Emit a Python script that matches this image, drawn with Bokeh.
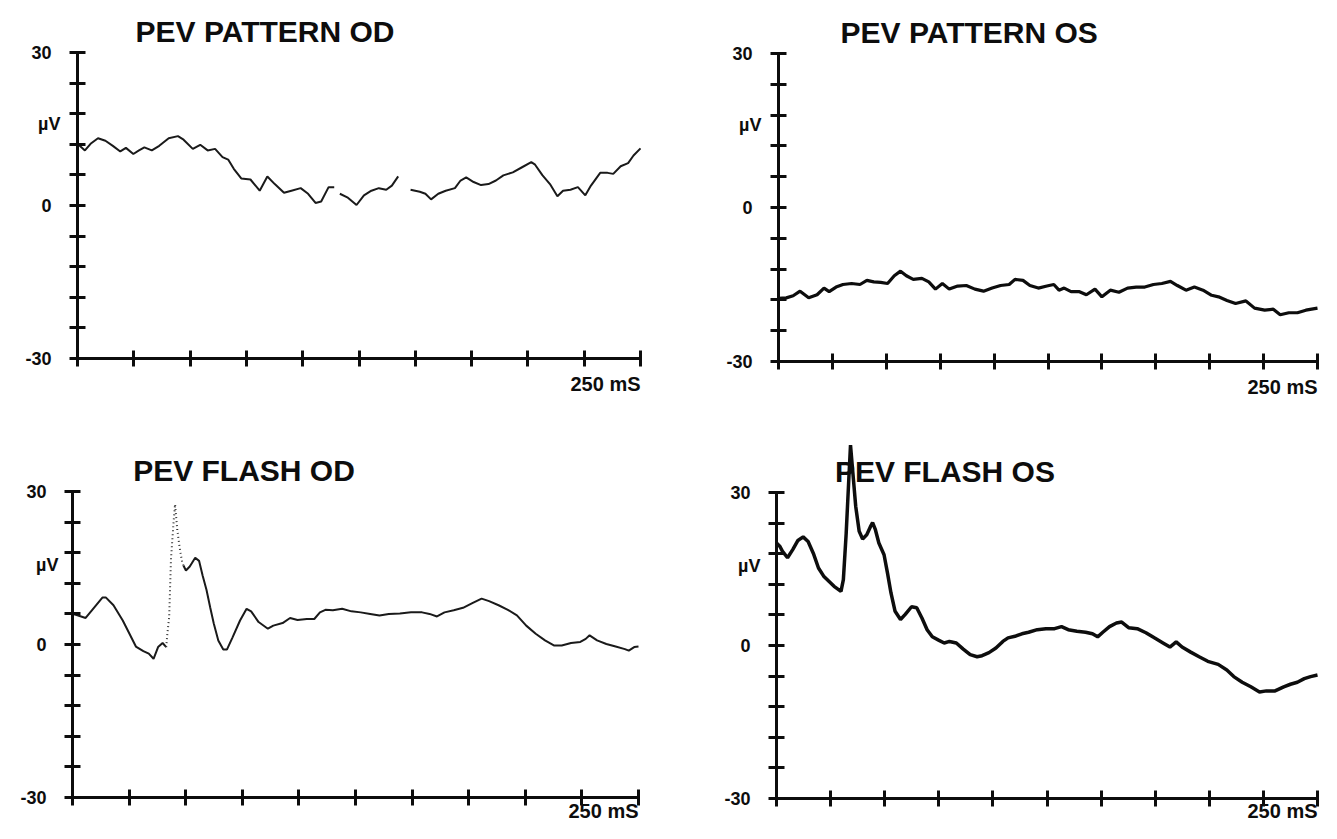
from bokeh.plotting import figure
from bokeh.models import Range1d, FixedTicker, Label
from bokeh.layouts import row, column
from bokeh.embed import file_html
from bokeh.resources import INLINE

NAN = float("nan")

# ---------------- data ----------------
y_ticks = [-30, -24, -18, -12, -6, 0, 6, 12, 18, 24, 30]
y_tick_labels = {30: "30", 0: "0", -30: "-30"}
x_ticks = [0, 25, 50, 75, 100, 125, 150, 175, 200, 225, 250]
x_end_label = "250 mS"
unit_label = "\u00b5V"
titles = ["PEV PATTERN OD", "PEV PATTERN OS", "PEV FLASH OD", "PEV FLASH OS"]

pattern_od_t = [0, 3.3, 5.8, 9.1, 12.4, 15.7, 19.0, 21.5, 24.8, 27.3, 29.7, 33.0, 36.3, 40.5, 44.6,
                47.1, 51.2, 54.5, 57.8, 61.1, 64.4, 66.9, 69.4, 72.7, 76.8, 80.9, 84.3, 87.6, 91.7,
                95.0, 99.1, 102.4, 105.7, 108.2, 111.5, 114.0, 115.3, 116.5, 119.8, 123.9, 127.2,
                130.5, 133.8, 137.1, 139.6, 142.4, 145.0, 147.9, 152.0, 154.5, 157.0, 160.2, 163.5,
                167.6, 170.1, 172.6, 175.9, 179.2, 182.5, 185.8, 189.1, 193.3, 197.4, 201.5, 203.2,
                206.5, 209.8, 213.1, 215.6, 218.9, 222.2, 225.5, 228.0, 232.1, 235.4, 237.9, 241.2,
                244.5, 246.9, 250.0]
pattern_od_v = [12.1, 10.8, 12.1, 13.2, 12.7, 11.7, 10.6, 11.3, 10.1, 10.8, 11.4, 10.8, 11.7, 13.2, 13.6,
                12.9, 11.1, 11.9, 10.8, 11.1, 9.5, 9.0, 7.2, 5.3, 5.1, 2.9, 5.7, 4.2, 2.5,
                2.9, 3.4, 2.3, 0.5, 0.8, 3.6, 3.6, NAN, 2.3, 1.6, 0.1, 2.0,
                2.9, 3.4, 3.1, 3.9, 5.7, NAN, 3.1, 2.7, 2.3, 1.2, 2.3, 2.9,
                3.4, 4.9, 5.5, 4.6, 4.0, 4.2, 4.9, 5.9, 6.5, 7.5, 8.5, 8.0,
                5.9, 4.2, 1.8, 2.9, 3.1, 3.6, 2.0, 3.9, 6.4, 6.4, 6.2, 7.7,
                8.3, 9.8, 11.2]

pattern_os_t = [0, 3.6, 6.8, 10.0, 14.0, 17.9, 21.1, 23.5, 26.7, 29.9, 33.9, 37.8, 41.0, 44.2, 47.4,
                50.6, 53.7, 56.6, 59.3, 62.5, 66.5, 69.7, 72.8, 76.0, 79.2, 83.1, 87.1, 91.1, 95.1,
                99.1, 103.0, 107.0, 109.7, 113.4, 116.6, 120.5, 124.5, 127.7, 130.1, 132.5, 135.7,
                139.6, 142.8, 146.8, 150.0, 153.9, 157.9, 161.9, 165.9, 169.9, 173.9, 177.8, 181.8,
                185.0, 189.0, 192.9, 196.9, 200.9, 204.1, 208.0, 212.0, 216.8, 220.8, 225.5, 229.5,
                232.7, 236.7, 240.7, 244.6, 250.0]
pattern_os_v = [-17.7, -17.6, -17.2, -16.3, -17.6, -17.0, -15.7, -16.4, -15.5, -15.0, -14.8, -15.0, -14.2,
                -14.5, -14.6, -14.8, -13.3, -12.4, -13.3, -14.0, -13.8, -14.5, -15.9, -14.8, -15.9,
                -15.3, -15.2, -15.9, -16.3, -15.7, -15.2, -15.0, -14.0, -14.2, -15.2, -15.7, -15.3,
                -15.0, -16.1, -15.7, -16.4, -16.4, -17.0, -15.9, -17.4, -16.1, -16.5, -15.7, -15.5,
                -15.5, -15.0, -14.8, -14.4, -15.2, -16.1, -15.5, -16.1, -17.1, -17.4, -18.1, -18.7,
                -18.2, -19.6, -20.0, -19.8, -20.9, -20.5, -20.5, -20.0, -19.6]

flash_od_pre_t = [0, 2.5, 5.8, 9.1, 13.2, 14.8, 18.1, 22.2, 25.5, 28.0, 31.3, 33.7, 35.8, 37.8, 39.8, 41.4]
flash_od_pre_v = [6.0, 5.7, 5.2, 7.0, 9.2, 9.2, 7.7, 4.7, 1.8, -0.4, -1.3, -1.8, -2.8, -0.5, 0.3, -0.5]
flash_od_spike_t = [41.4, 41.9, 42.7, 43.5, 44.7, 45.3, 46.3, 47.3, 48.4, 49.0]
flash_od_spike_v = [-0.5, 2.1, 5.4, 16.8, 24.3, 27.5, 22.4, 19.1, 16.2, 15.5]
flash_od_post_t = [49.0, 50.1, 51.8, 54.2, 55.9, 57.5, 59.2, 60.8, 62.4, 64.4, 66.6, 68.2, 70.7, 74.0,
                   76.9, 78.9, 82.2, 86.3, 88.7, 92.8, 96.1, 99.4, 103.5, 106.8, 109.3, 111.7, 115.0,
                   119.1, 123.2, 127.3, 131.5, 135.6, 139.7, 144.6, 149.5, 154.4, 157.7, 161.0, 164.3,
                   168.4, 172.5, 176.6, 180.7, 184.0, 188.2, 192.3, 196.3, 200.4, 204.6, 208.7, 212.8,
                   216.1, 220.2, 224.3, 226.7, 228.4, 231.7, 235.8, 239.9, 244.0, 245.7, 248.1, 250.0]
flash_od_post_v = [15.5, 14.5, 15.3, 17.0, 16.4, 13.5, 10.7, 7.3, 4.1, 0.8, -1.0, -1.0, 1.4, 4.7,
                   7.0, 6.5, 4.4, 3.1, 3.7, 4.2, 5.2, 4.8, 5.0, 5.0, 6.3, 6.8, 6.7,
                   7.0, 6.5, 6.3, 6.0, 5.7, 6.0, 6.1, 6.3, 6.3, 6.0, 5.5, 6.3,
                   6.7, 7.2, 8.1, 9.0, 8.5, 7.7, 6.8, 5.7, 3.7, 2.1, 0.8, -0.2,
                   -0.2, 0.3, 0.5, 1.1, 1.8, 0.8, 0.1, -0.4, -0.9, -1.2, -0.5, -0.4]

flash_os_t = [0, 1.6, 2.7, 5.1, 7.5, 9.9, 12.3, 14.6, 17.0, 19.4, 21.8, 24.2, 26.6, 29.8, 30.9, 32.2,
              33.4, 34.2, 35.3, 36.6, 38.2, 39.8, 41.7, 43.3, 44.4, 45.7, 47.3, 49.7, 51.3, 52.9,
              54.8, 57.3, 59.5, 62.4, 64.8, 67.2, 69.6, 72.0, 75.1, 77.5, 79.9, 83.1, 86.3, 89.5,
              92.7, 95.0, 98.2, 101.4, 104.6, 107.0, 110.2, 113.4, 116.5, 120.5, 124.5, 128.5,
              131.7, 134.8, 138.8, 142.8, 146.0, 148.4, 150.8, 153.9, 157.1, 159.5, 162.7, 166.7,
              170.7, 174.6, 178.6, 181.8, 184.7, 187.4, 191.4, 195.3, 199.3, 204.1, 208.1, 211.3,
              215.2, 219.2, 223.2, 226.4, 230.4, 234.4, 237.5, 240.7, 243.9, 246.8, 250.0]
flash_os_v = [20.1, 19.4, 18.5, 17.2, 18.8, 20.6, 21.3, 20.4, 18.1, 15.2, 13.6, 12.6, 11.6, 10.6, 12.9,
              22.0, 32.5, 39.3, 33.8, 27.3, 22.4, 20.9, 21.7, 23.2, 24.1, 22.7, 20.1, 17.8, 14.2,
              10.3, 6.7, 5.1, 6.1, 7.6, 7.4, 5.4, 3.1, 1.7, 1.0, 0.5, 0.8, 0.5, -0.7, -1.8,
              -2.2, -2.0, -1.4, -0.5, 0.8, 1.5, 1.8, 2.3, 2.6, 3.1, 3.3, 3.3,
              3.7, 3.1, 2.8, 2.6, 2.3, 1.7, 2.6, 3.7, 4.4, 4.6, 3.5, 3.3,
              2.5, 1.5, 0.5, -0.3, 0.7, -0.3, -1.3, -2.2, -3.1, -3.7, -4.8, -6.1,
              -7.2, -8.1, -9.1, -8.9, -8.9, -8.1, -7.6, -7.2, -6.5, -6.1, -5.8]

# ---------------- styling ----------------
FONT = "Liberation Sans"
INK = "#0d0d0d"


def make_panel(width, height, ax_left, ax_right, px_top, px_bottom, title, title_t,
               unit_v, unit_dx, end_gap):
    """ax_left/ax_right: canvas pixel of t=0 / t=250; px_top/px_bottom: pixel of +30 / -30."""
    pxt = (ax_right - ax_left) / 250.0
    pxv = (px_bottom - px_top) / 60.0
    x_start = -ax_left / pxt
    x_end = 250 + (width - ax_right) / pxt
    y_end = 30 + px_top / pxv
    y_start = -30 - (height - px_bottom) / pxv

    p = figure(width=width, height=height,
               x_range=Range1d(x_start, x_end), y_range=Range1d(y_start, y_end),
               output_backend="svg", toolbar_location=None, min_border=0)
    p.grid.visible = False
    p.outline_line_color = None
    p.background_fill_color = "white"
    p.border_fill_color = "white"

    xa = p.xaxis[0]
    xa.fixed_location = -30
    xa.ticker = FixedTicker(ticks=x_ticks)
    xa.bounds = (0, 250)
    xa.axis_line_width = 3
    xa.axis_line_color = INK
    xa.major_tick_line_width = 3
    xa.major_tick_line_color = INK
    xa.major_tick_in = 8
    xa.major_tick_out = 8
    xa.minor_tick_line_color = None
    xa.major_label_overrides = {t: "" for t in x_ticks}
    xa.major_label_text_font_size = "1px"

    ya = p.yaxis[0]
    ya.fixed_location = 0
    ya.ticker = FixedTicker(ticks=y_ticks)
    ya.bounds = (-30, 30)
    ya.axis_line_width = 3
    ya.axis_line_color = INK
    ya.major_tick_line_width = 3
    ya.major_tick_line_color = INK
    ya.major_tick_in = 8
    ya.major_tick_out = 8
    ya.minor_tick_line_color = None
    ya.major_label_overrides = {t: y_tick_labels.get(t, "") for t in y_ticks}
    ya.major_label_text_font = FONT
    ya.major_label_text_font_style = "bold"
    ya.major_label_text_font_size = "18px"
    ya.major_label_text_color = INK
    ya.major_label_standoff = 18

    p.add_layout(Label(x=title_t, y=30 + 21.5 / pxv, text=title,
                       text_font=FONT, text_font_style="bold", text_font_size="30px",
                       text_color=INK, text_align="left", text_baseline="middle"))
    p.add_layout(Label(x=-unit_dx / pxt, y=unit_v, text=unit_label,
                       text_font=FONT, text_font_style="bold", text_font_size="18px",
                       text_color=INK, text_align="right", text_baseline="middle"))
    p.add_layout(Label(x=250, y=-30 - end_gap / pxv, text=x_end_label,
                       text_font=FONT, text_font_style="bold", text_font_size="20px",
                       text_color=INK, text_align="right", text_baseline="middle"))
    return p


# top row: 424 px high; bottom row: 399 px high; left column 680 px, right column 641 px
pA = make_panel(680, 424, 77, 640, 52, 358, titles[0], 25.8, 16.0, 17, 25)
pA.line(pattern_od_t, pattern_od_v, line_color="#1a1a1a", line_width=2)

pB = make_panel(641, 424, 98, 637, 53, 361, titles[1], 28.8, 16.0, 17, 25)
pB.line(pattern_os_t, pattern_os_v, line_color=INK, line_width=3.2)

pC = make_panel(680, 399, 72, 638, 67, 373, titles[2], 26.8, 15.6, 14, 13)
pC.line(flash_od_pre_t, flash_od_pre_v, line_color="#1a1a1a", line_width=2)
pC.line(flash_od_spike_t, flash_od_spike_v, line_color="#333333", line_width=2, line_dash="1 3")
pC.line(flash_od_post_t, flash_od_post_v, line_color="#1a1a1a", line_width=2)

pD = make_panel(641, 399, 96, 637, 68, 374, titles[3], 27.0, 15.6, 16, 12)
pD.line(flash_os_t, flash_os_v, line_color=INK, line_width=3.5)

layout = column(row(pA, pB), row(pC, pD))

open("out.html", "w").write(file_html(layout, INLINE))
